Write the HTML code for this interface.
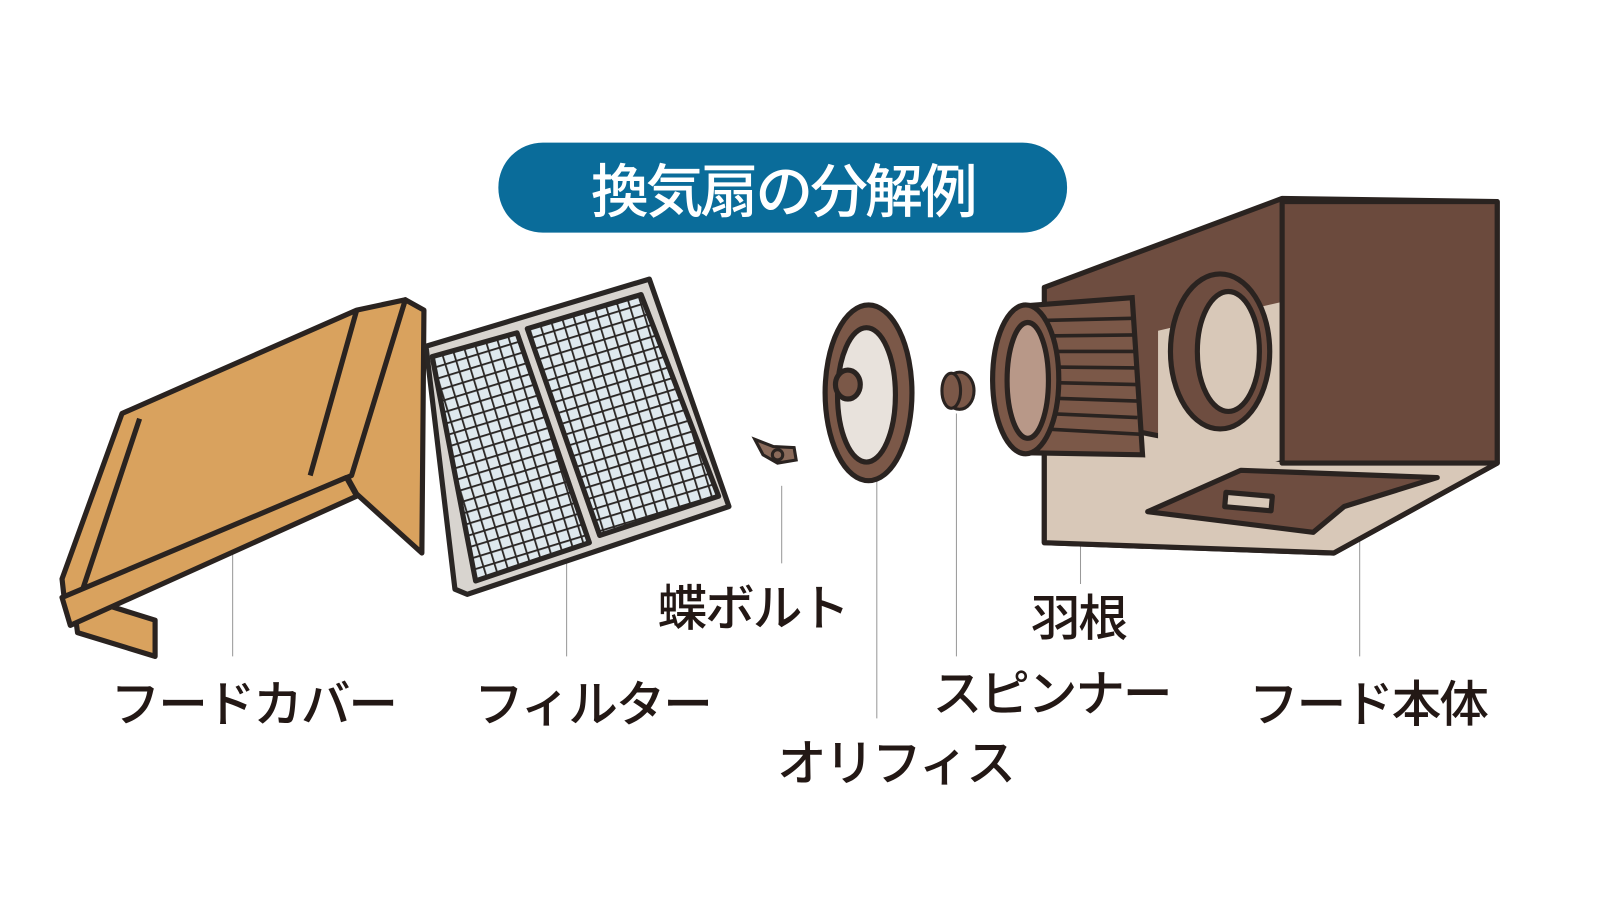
<!DOCTYPE html>
<html><head><meta charset="utf-8"><style>
html,body{margin:0;padding:0;background:#fff;width:1613px;height:921px;overflow:hidden}
svg{display:block}
text{font-family:"Liberation Sans","Noto Sans CJK JP",sans-serif;fill:#231815}
</style></head><body>
<svg width="1613" height="921" viewBox="0 0 1560 891" preserveAspectRatio="none" xmlns="http://www.w3.org/2000/svg">
<defs>
<pattern id="grid" width="11" height="11" patternUnits="userSpaceOnUse" patternTransform="rotate(-17)">
<rect width="11" height="11" fill="#dfe9ee"/>
<path d="M0 0H11M0 0V11" stroke="#2a2624" stroke-width="3.5"/>
</pattern>
</defs>
<!-- banner -->
<rect x="482" y="138" width="550" height="87" rx="43" fill="#0a6c9a"/>
<text x="757" y="205" font-size="56" font-weight="500" letter-spacing="-3" text-anchor="middle" style="fill:#fff">換気扇の分解例</text>

<!-- leader lines -->
<g stroke="#999" stroke-width="1">
<line x1="225" y1="505" x2="225" y2="635"/>
<line x1="548" y1="500" x2="548" y2="635"/>
<line x1="756" y1="470" x2="756" y2="545"/>
<line x1="848" y1="465" x2="848" y2="695"/>
<line x1="925" y1="400" x2="925" y2="635"/>
<line x1="1045" y1="440" x2="1045" y2="565"/>
<line x1="1315" y1="380" x2="1315" y2="635"/>
</g>

<!-- hood cover -->
<g stroke="#2a2320" stroke-width="5" stroke-linejoin="round" fill="#d9a25e">
<polygon points="70,575 150,600 150,635 75,612"/>
<polygon points="335,460 392,290 410,300 408,535 345,478"/>
<polygon points="118,400 345,300 392,290 340,460 62,578 60,560"/>
<polygon points="60,578 335,462 345,480 68,605"/>
<line x1="345" y1="300" x2="300" y2="460" fill="none"/>
<line x1="135" y1="405" x2="80" y2="570" fill="none"/>
</g>

<!-- filter -->
<g stroke="#2a2624" stroke-width="5" stroke-linejoin="round">
<polygon points="412,335 628,270 705,490 452,575 440,570" fill="#d8d4cf"/>
<polygon points="418,345 500,322 570,525 460,562" fill="url(#grid)"/>
<polygon points="510,318 620,285 695,480 580,518" fill="url(#grid)"/>
</g>

<!-- butterfly bolt -->
<g stroke="#2a2320" stroke-width="3" fill="#8a6a5a">
<path d="M730 425 L748 432 L768 433 L770 445 L752 448 L738 440 Z"/>
<circle cx="752" cy="440" r="5"/>
</g>

<!-- orifice -->
<g stroke="#2a2320" stroke-width="5">
<ellipse cx="840" cy="380" rx="42" ry="85" fill="#7b5848"/>
<ellipse cx="838" cy="382" rx="28" ry="65" fill="#e8e2dc"/>
<ellipse cx="820" cy="372" rx="12" ry="14" fill="#7b5848"/>
</g>

<!-- spinner -->
<g stroke="#2a2320" stroke-width="3" fill="#7b5848">
<ellipse cx="928" cy="378" rx="14" ry="18"/>
<ellipse cx="920" cy="378" rx="9" ry="17"/>
</g>

<!-- hood body -->
<g stroke="#2a2320" stroke-width="5" stroke-linejoin="round">
<polygon points="1010,278 1240,192 1448,195 1448,448 1290,535 1010,525" fill="#6e4d40"/>
<polygon points="1010,400 1240,445 1448,448 1290,535 1010,525" fill="#d8c8b8"/>
<polygon points="1120,320 1240,292 1240,445 1120,470" fill="#d8c8b8" stroke="none"/>
<rect x="1240" y="195" width="208" height="253" fill="#6b4a3d"/>
<ellipse cx="1180" cy="340" rx="48" ry="75" fill="#6e4d40"/>
<ellipse cx="1188" cy="340" rx="30" ry="58" fill="#d8c8b8"/>
<polygon points="1110,495 1200,455 1390,462 1300,490 1270,515" fill="#6e4d40"/>
<rect x="1185" y="478" width="45" height="14" fill="#d8c8b8" transform="rotate(5 1205 485)"/>
</g>

<!-- fan -->
<g stroke="#2a2320" stroke-width="5">
<polygon points="990,296 1095,288 1105,440 990,438" fill="#7b5848"/>
<g stroke-width="3.5">
<line x1="1010" y1="310" x2="1095" y2="308"/><line x1="1010" y1="325" x2="1098" y2="324"/>
<line x1="1010" y1="340" x2="1098" y2="340"/><line x1="1010" y1="355" x2="1100" y2="356"/>
<line x1="1010" y1="370" x2="1100" y2="372"/><line x1="1010" y1="385" x2="1100" y2="388"/>
<line x1="1010" y1="400" x2="1100" y2="404"/><line x1="1010" y1="415" x2="1102" y2="420"/>
</g>
<ellipse cx="992" cy="367" rx="32" ry="72" fill="#7b5848"/>
<ellipse cx="994" cy="368" rx="20" ry="56" fill="#b89888"/>
</g>

<!-- labels -->
<g font-size="48" font-weight="500" letter-spacing="-2">
<text x="245" y="698" text-anchor="middle">フードカバー</text>
<text x="573" y="698" text-anchor="middle">フィルター</text>
<text x="728" y="605" text-anchor="middle">蝶ボルト</text>
<text x="1043" y="615" text-anchor="middle">羽根</text>
<text x="1017" y="688" text-anchor="middle">スピンナー</text>
<text x="866" y="755" text-anchor="middle">オリフィス</text>
<text x="1323" y="698" text-anchor="middle">フード本体</text>
</g>
</svg>
</body></html>
